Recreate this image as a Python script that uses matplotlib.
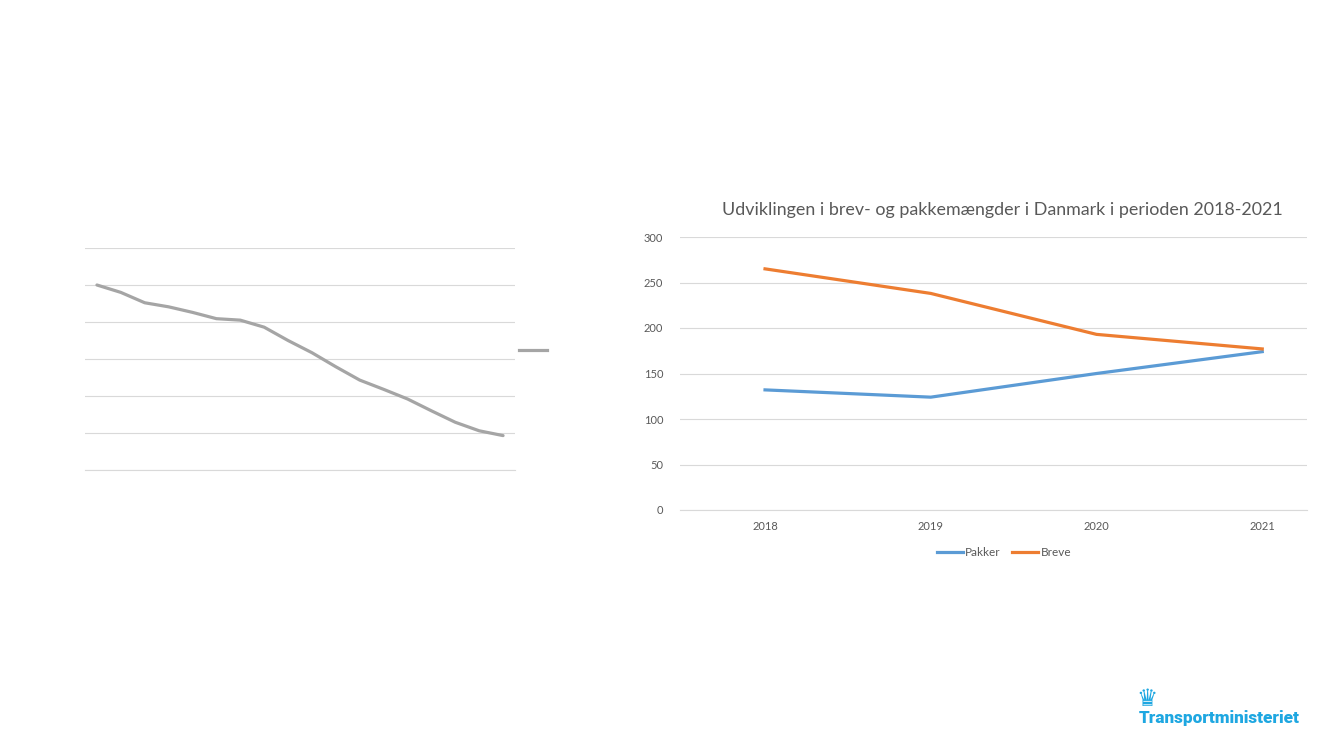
import matplotlib
matplotlib.use('Agg')
import matplotlib.pyplot as plt
from matplotlib.lines import Line2D

plt.rcParams['font.family'] = ['Lato', 'DejaVu Sans']

# left chart: unlabeled index series (grid units)
left_vals = [5.0, 4.80, 4.52, 4.41, 4.26, 4.09, 4.05, 3.86, 3.50, 3.17,
             2.79, 2.43, 2.18, 1.92, 1.60, 1.29, 1.06, 0.93]

# right chart
years = ['2018', '2019', '2020', '2021']
pakker = [132, 124, 150, 174]
breve = [265, 238, 193, 177]
title = 'Udviklingen i brev- og pakkemængder i Danmark i perioden 2018-2021'

W, H = 1333, 750
fig = plt.figure(figsize=(W / 100, H / 100), dpi=100)
fig.patch.set_facecolor('white')

grid_c = '#D9D9D9'
txt_c = '#595959'


def box(x0, y0, x1, y1):
    return [x0 / W, 1 - y1 / H, (x1 - x0) / W, (y1 - y0) / H]


# ---- left chart
axl = fig.add_axes(box(85, 248, 515, 470))
ln, = axl.plot(range(len(left_vals)), left_vals, color='#A5A5A5', lw=2.3,
               solid_capstyle='round')
axl.set_xlim(-0.5, len(left_vals) - 0.5)
axl.set_ylim(0, 6)
axl.set_yticks(range(7))
axl.yaxis.grid(True, color=grid_c, lw=0.8)
axl.set_axisbelow(True)
axl.tick_params(left=False, bottom=False, labelleft=False, labelbottom=False)
for s in axl.spines.values():
    s.set_visible(False)
axl.spines['bottom'].set_visible(True)
axl.spines['bottom'].set_color(grid_c)
axl.spines['bottom'].set_linewidth(0.8)
fig.legend([Line2D([], [], color='#A5A5A5', lw=2.3)], [''], loc='center left',
           bbox_to_anchor=(512 / W, 1 - 351 / H), frameon=False,
           handlelength=2.0, handletextpad=0, borderpad=0, fontsize=10)

# ---- right chart
axr = fig.add_axes(box(680, 237, 1307, 510))
x = range(len(years))
axr.plot(x, pakker, color='#5B9BD5', lw=2.3, label='Pakker')
axr.plot(x, breve, color='#ED7D31', lw=2.3, label='Breve')
axr.set_xlim(-0.513, 3.27)
axr.set_ylim(0, 300)
axr.set_yticks(range(0, 301, 50))
axr.set_xticks(list(x))
axr.set_xticklabels(years)
axr.yaxis.grid(True, color=grid_c, lw=0.8)
axr.set_axisbelow(True)
axr.tick_params(length=0, labelsize=8, colors=txt_c, pad=8)
axr.tick_params(axis='y', pad=12)
for s in axr.spines.values():
    s.set_visible(False)
axr.spines['bottom'].set_visible(True)
axr.spines['bottom'].set_color(grid_c)
axr.spines['bottom'].set_linewidth(0.8)
fig.text(1002 / W, 1 - 210 / H, title, ha='center', va='center',
         fontsize=12.9, color=txt_c)
axr.legend(loc='center', bbox_to_anchor=(1004 / W, 1 - 553 / H),
           bbox_transform=fig.transFigure, ncol=2, frameon=False,
           fontsize=8.5, handlelength=2.2, handletextpad=0.2,
           columnspacing=1.0, labelcolor=txt_c)

# ---- logo
fig.text(1147 / W, 1 - 699 / H, '\u265b', ha='center', va='center',
         fontsize=17, color='#1EA7E1', family='DejaVu Sans')
fig.text(1219 / W, 1 - 718 / H, 'Transportministeriet', ha='center',
         va='center', fontsize=12.3, fontweight='heavy', color='#1EA7E1',
         family='Roboto')

fig.savefig('out.png', dpi=100, facecolor='white')
